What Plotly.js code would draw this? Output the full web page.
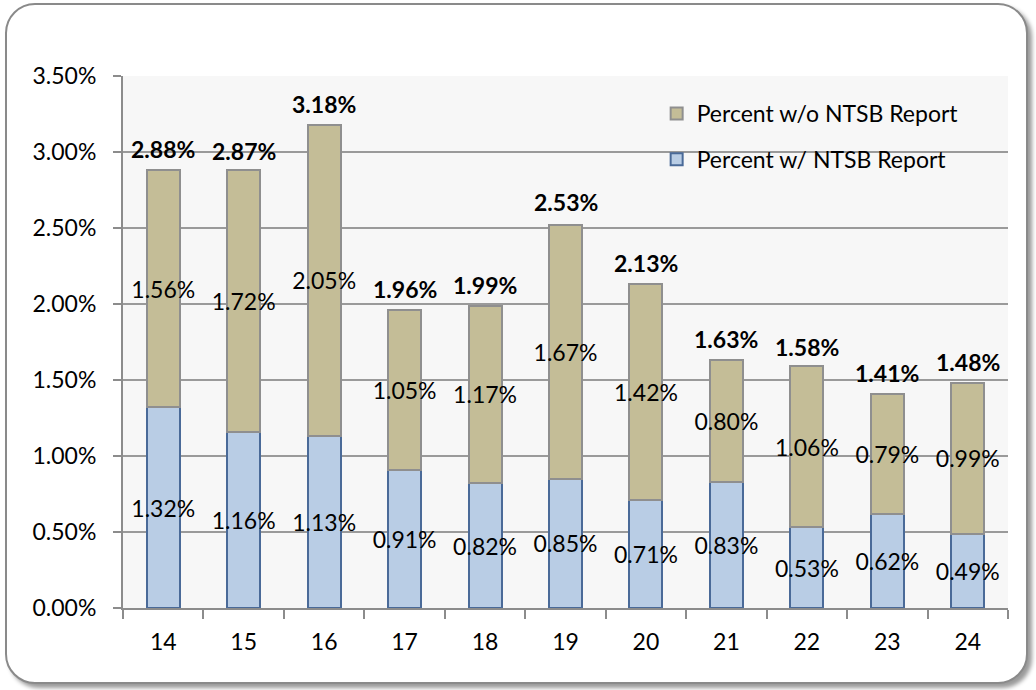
<!DOCTYPE html>
<html>
<head>
<meta charset="utf-8">
<script src="https://cdn.plot.ly/plotly-3.0.1.min.js"></script>
<style>
  html, body { margin: 0; padding: 0; background: #ffffff; }
  #frame {
    position: absolute; left: 5px; top: 3px; width: 1019px; height: 677px;
    border: 2px solid #8a8a8a; border-radius: 30px;
    box-shadow: 4px 4px 4px #9a9a9a; background: #ffffff;
  }
  #chart { position: absolute; left: 0; top: 0; width: 1036px; height: 690px; }
</style>
</head>
<body>
<div id="frame"></div>
<div id="chart"></div>
<script>
const categories = ['14','15','16','17','18','19','20','21','22','23','24'];
const withReport = [1.32, 1.16, 1.13, 0.91, 0.82, 0.85, 0.71, 0.83, 0.53, 0.62, 0.49];
const withoutReport = [1.56, 1.72, 2.05, 1.05, 1.17, 1.67, 1.42, 0.80, 1.06, 0.79, 0.99];
const totals = [2.88, 2.87, 3.18, 1.96, 1.99, 2.53, 2.13, 1.63, 1.58, 1.41, 1.48];
const yTicks = [0, 0.5, 1.0, 1.5, 2.0, 2.5, 3.0, 3.5];

const FONT = 'Lato, "Noto Sans", sans-serif';
const fmt = v => v.toFixed(2) + '%';

const traces = [
  {
    type: 'bar', name: 'Percent w/ NTSB Report',
    x: categories, y: withReport,
    marker: { color: '#b9cde5', line: { color: '#4a6a98', width: 2 } },
    text: withReport.map(fmt), textposition: 'inside', insidetextanchor: 'middle',
    constraintext: 'none', textangle: 0,
    textfont: { family: FONT, size: 23, color: '#000000' },
    legendgroup: 'a', legendrank: 2, hoverinfo: 'skip'
  },
  {
    type: 'bar', name: 'Percent w/o NTSB Report',
    x: categories, y: withoutReport,
    marker: { color: '#c4bd97', line: { color: '#8f8f8f', width: 2 } },
    text: withoutReport.map(fmt), textposition: 'inside', insidetextanchor: 'middle',
    constraintext: 'none', textangle: 0,
    textfont: { family: FONT, size: 23, color: '#000000' },
    legendgroup: 'b', legendrank: 1, hoverinfo: 'skip'
  }
];

const annotations = categories.map((c, i) => ({
  x: i, y: totals[i], xref: 'x', yref: 'y',
  text: '<b>' + fmt(totals[i]) + '</b>',
  showarrow: false, yanchor: 'bottom', yshift: 5,
  font: { family: FONT, size: 23, color: '#000000' }
}));

const layout = {
  width: 1036, height: 690,
  margin: { l: 123, r: 28, t: 76, b: 82 },
  paper_bgcolor: 'rgba(0,0,0,0)',
  plot_bgcolor: '#f7f7f7',
  barmode: 'stack',
  bargap: 0.59,
  font: { family: FONT, size: 23, color: '#000000' },
  showlegend: true,
  annotations: annotations,
  legend: {
    x: 0.603, y: 0.97, xanchor: 'left', yanchor: 'top',
    bgcolor: 'rgba(0,0,0,0)', traceorder: 'grouped',
    tracegroupgap: 13,
    font: { family: FONT, size: 23, color: '#000000' }
  },
  xaxis: {
    type: 'category', tickson: 'boundaries', ticks: 'outside', ticklen: 9,
    tickcolor: '#8c8c8c', tickwidth: 2,
    showline: true, linecolor: '#8c8c8c', linewidth: 2,
    showgrid: false, ticklabelstandoff: 12,
    range: [-0.5, categories.length - 0.5],
    tickfont: { family: FONT, size: 23 }
  },
  yaxis: {
    range: [0, 3.5], tickvals: yTicks, ticktext: yTicks.map(fmt),
    ticks: 'outside', ticklen: 8, tickcolor: '#8c8c8c', tickwidth: 2,
    showline: true, linecolor: '#8c8c8c', linewidth: 2,
    showgrid: true, gridcolor: '#9a9a9a', gridwidth: 1.5,
    zeroline: false, ticklabelstandoff: 12,
    tickfont: { family: FONT, size: 23 }
  }
};

Plotly.newPlot('chart', traces, layout, { displayModeBar: false, staticPlot: true });
</script>
</body>
</html>
